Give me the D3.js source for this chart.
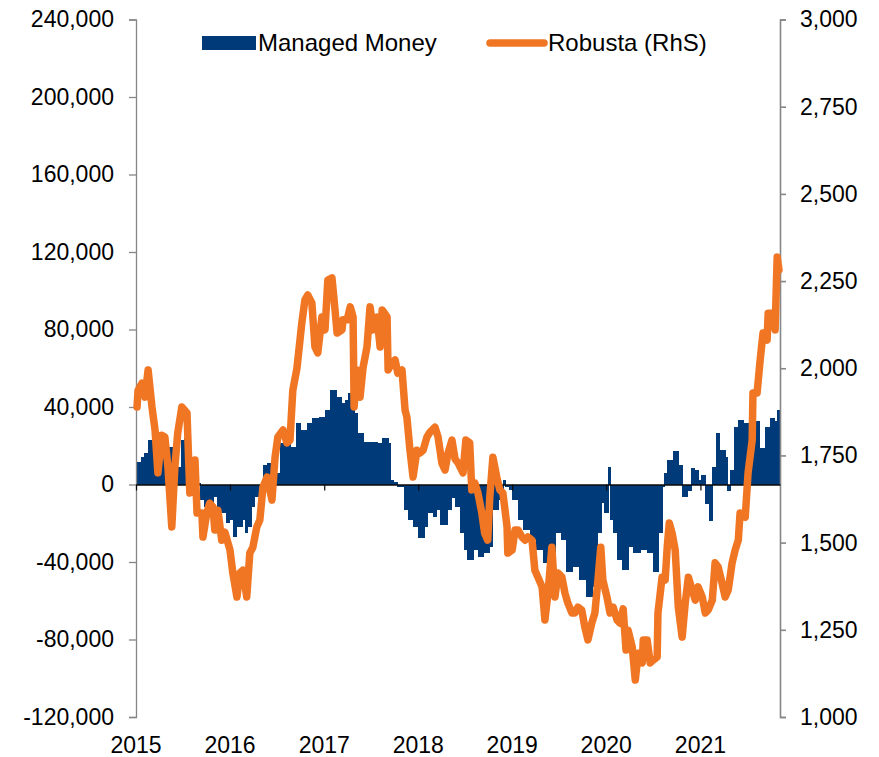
<!DOCTYPE html>
<html>
<head>
<meta charset="utf-8">
<script src="https://cdn.jsdelivr.net/npm/d3@7"></script>
<style>
  body { margin: 0; background: #fff; }
  svg text { font-family: "Liberation Sans", Arial, sans-serif; fill: #000; }
</style>
</head>
<body>
<div id="chart"></div>
<script>
// Managed Money net position (contracts)
const managedMoney = [
  ["2015-01-06", 11600], ["2015-01-20", 14200], ["2015-02-03", 16300], ["2015-02-17", 23000],
  ["2015-03-03", 19400], ["2015-03-17", 24500], ["2015-04-07", 23000], ["2015-04-28", 19400],
  ["2015-05-19", 14200], ["2015-06-02", 9000], ["2015-06-23", 23000], ["2015-07-07", 24000],
  ["2015-07-21", 12600], ["2015-08-04", 3900], ["2015-08-25", 800], ["2015-09-08", -8000],
  ["2015-09-22", -11600], ["2015-10-06", -9500], ["2015-10-27", -6400], ["2015-11-10", -11600],
  ["2015-11-24", -14700], ["2015-12-15", -19900], ["2015-12-29", -18300], ["2016-01-12", -27100],
  ["2016-01-26", -21900], ["2016-02-16", -18300], ["2016-03-01", -25000], ["2016-03-08", -21900],
  ["2016-03-22", -11600], ["2016-04-05", -6400], ["2016-04-19", -2800], ["2016-05-03", 800],
  ["2016-05-10", 10000], ["2016-05-24", 11100], ["2016-06-07", 7500], ["2016-06-28", 5900],
  ["2016-07-12", 21400], ["2016-07-26", 23000], ["2016-08-09", 24500], ["2016-08-23", 19400],
  ["2016-09-13", 31700], ["2016-09-27", 28100], ["2016-10-25", 31700], ["2016-11-15", 34300],
  ["2016-12-13", 34800], ["2017-01-03", 38400], ["2017-01-24", 48800], ["2017-02-14", 45200],
  ["2017-03-07", 42000], ["2017-03-21", 43600], ["2017-04-04", 47200], ["2017-04-25", 36900],
  ["2017-05-09", 26600], ["2017-05-30", 21900], ["2017-06-27", 21900], ["2017-07-25", 21400],
  ["2017-08-15", 24000], ["2017-09-05", 21400], ["2017-09-12", 2300], ["2017-09-26", 1300],
  ["2017-10-10", -1300], ["2017-11-07", -13200], ["2017-11-21", -18300], ["2017-12-12", -21900],
  ["2018-01-02", -27600], ["2018-01-23", -21900], ["2018-02-06", -14700], ["2018-02-27", -16800],
  ["2018-03-13", -13200], ["2018-03-27", -20900], ["2018-04-24", -13200], ["2018-05-08", -7000],
  ["2018-05-22", -11600], ["2018-06-12", -25000], ["2018-06-26", -33800], ["2018-07-10", -39000],
  ["2018-07-31", -33800], ["2018-08-21", -37400], ["2018-09-11", -35400], ["2018-10-02", -32000],
  ["2018-10-16", -13200], ["2018-11-06", -8000], ["2018-11-27", 2300], ["2018-12-04", -1300],
  ["2018-12-18", -2800], ["2019-01-01", -8000], ["2019-01-22", -18300], ["2019-02-12", -23500],
  ["2019-03-12", -28600], ["2019-04-02", -33800], ["2019-04-30", -40500], ["2019-05-14", -40000],
  ["2019-05-28", -35400], ["2019-06-18", -25000], ["2019-07-09", -28600], ["2019-07-30", -45100],
  ["2019-08-20", -42600], ["2019-09-17", -49300], ["2019-10-15", -58100], ["2019-11-05", -52900],
  ["2019-11-26", -25000], ["2019-12-10", -9500], ["2019-12-24", -14700], ["2020-01-07", 9000],
  ["2020-01-14", -18300], ["2020-01-28", -25000], ["2020-02-11", -39000], ["2020-03-03", -44100],
  ["2020-03-24", -32200], ["2020-04-14", -35400], ["2020-05-12", -33800], ["2020-06-09", -35400],
  ["2020-06-30", -45400], ["2020-07-21", -25000], ["2020-08-04", -1300], ["2020-08-11", 5900],
  ["2020-08-25", 12600], ["2020-09-15", 17300], ["2020-10-06", 10000], ["2020-10-20", -6400],
  ["2020-11-10", -3500], ["2020-11-24", 8500], ["2020-12-08", 7500], ["2020-12-22", 2300],
  ["2021-01-05", 4900], ["2021-01-19", -10000], ["2021-02-02", -19000], ["2021-02-16", 9000],
  ["2021-03-02", 26600], ["2021-03-16", 17800], ["2021-04-06", 14200], ["2021-04-13", -3500],
  ["2021-04-27", 7500], ["2021-05-11", 29700], ["2021-05-25", 33300], ["2021-06-15", 31700],
  ["2021-07-06", 25000], ["2021-07-27", 33000], ["2021-08-17", 18600], ["2021-09-07", 29700],
  ["2021-09-28", 34500], ["2021-10-12", 32700], ["2021-10-26", 38400], ["2021-11-02", 35900]
];

// Robusta price (USD/t, right hand scale)
const robusta = [
  ["2015-01-05", 1889], ["2015-01-09", 1937], ["2015-01-24", 1957], ["2015-02-05", 1917],
  ["2015-02-17", 1995], ["2015-03-04", 1889], ["2015-03-16", 1823], ["2015-03-27", 1700],
  ["2015-04-11", 1808], ["2015-04-23", 1803], ["2015-05-05", 1717], ["2015-05-20", 1545],
  ["2015-06-01", 1717], ["2015-06-12", 1814], ["2015-06-28", 1889], ["2015-07-18", 1872],
  ["2015-07-29", 1642], ["2015-08-10", 1659], ["2015-08-18", 1737], ["2015-08-26", 1585],
  ["2015-09-14", 1585], ["2015-09-18", 1516], ["2015-10-03", 1585], ["2015-10-14", 1613],
  ["2015-10-27", 1602], ["2015-11-03", 1536], ["2015-11-15", 1593], ["2015-11-30", 1507],
  ["2015-12-12", 1530], ["2016-01-01", 1479], ["2016-01-12", 1413], ["2016-01-28", 1344],
  ["2016-02-08", 1413], ["2016-02-20", 1421], ["2016-03-06", 1344], ["2016-03-18", 1470],
  ["2016-03-30", 1487], ["2016-04-14", 1545], ["2016-04-26", 1565], ["2016-05-08", 1659],
  ["2016-05-24", 1688], ["2016-06-12", 1622], ["2016-06-24", 1745], ["2016-07-05", 1803],
  ["2016-07-25", 1823], ["2016-08-09", 1786], ["2016-08-21", 1794], ["2016-09-01", 1937],
  ["2016-09-17", 2000], ["2016-10-06", 2130], ["2016-10-18", 2196], ["2016-10-29", 2210],
  ["2016-11-14", 2187], ["2016-11-26", 2061], ["2016-12-07", 2044], ["2016-12-23", 2147],
  ["2017-01-04", 2110], ["2017-01-15", 2253], ["2017-01-31", 2259], ["2017-02-12", 2167],
  ["2017-02-20", 2101], ["2017-03-11", 2110], ["2017-03-15", 2139], ["2017-03-31", 2139],
  ["2017-04-12", 2176], ["2017-04-23", 2147], ["2017-04-27", 1889], ["2017-05-08", 1995],
  ["2017-05-20", 1917], ["2017-06-01", 2003], ["2017-06-16", 2061], ["2017-06-28", 2176],
  ["2017-07-10", 2110], ["2017-07-25", 2147], ["2017-08-06", 2061], ["2017-08-14", 2167],
  ["2017-09-02", 2147], ["2017-09-06", 1995], ["2017-09-21", 2015], ["2017-10-03", 2024],
  ["2017-10-14", 1986], ["2017-10-30", 1995], ["2017-11-11", 1880], ["2017-11-18", 1860],
  ["2017-11-30", 1765], ["2017-12-12", 1688], ["2017-12-27", 1765], ["2018-01-08", 1757],
  ["2018-01-20", 1765], ["2018-02-04", 1803], ["2018-02-16", 1817], ["2018-03-07", 1831],
  ["2018-03-19", 1803], ["2018-04-03", 1728], ["2018-04-15", 1708], ["2018-04-27", 1757],
  ["2018-05-12", 1794], ["2018-05-24", 1740], ["2018-06-05", 1728], ["2018-06-24", 1700],
  ["2018-07-05", 1794], ["2018-07-20", 1786], ["2018-07-28", 1651], ["2018-08-09", 1671],
  ["2018-08-21", 1642], ["2018-09-05", 1585], ["2018-09-16", 1527], ["2018-09-28", 1507],
  ["2018-10-06", 1631], ["2018-10-18", 1745], ["2018-11-02", 1688], ["2018-11-14", 1651],
  ["2018-11-26", 1642], ["2018-12-12", 1545], ["2018-12-15", 1470], ["2019-01-01", 1479],
  ["2019-01-12", 1536], ["2019-01-24", 1536], ["2019-02-08", 1516], ["2019-02-20", 1507],
  ["2019-03-03", 1516], ["2019-03-19", 1507], ["2019-03-30", 1421], ["2019-04-11", 1401],
  ["2019-04-27", 1373], ["2019-05-08", 1278], ["2019-05-20", 1355], ["2019-06-04", 1487],
  ["2019-06-16", 1344], ["2019-06-28", 1413], ["2019-07-13", 1401], ["2019-07-25", 1355],
  ["2019-08-05", 1327], ["2019-08-21", 1298], ["2019-09-01", 1298], ["2019-09-13", 1315],
  ["2019-09-28", 1307], ["2019-10-10", 1258], ["2019-10-22", 1221], ["2019-11-06", 1269],
  ["2019-11-18", 1298], ["2019-11-30", 1393], ["2019-12-11", 1487], ["2019-12-19", 1393],
  ["2020-01-04", 1344], ["2020-01-16", 1298], ["2020-01-28", 1315], ["2020-02-12", 1278],
  ["2020-02-24", 1269], ["2020-03-07", 1310], ["2020-03-18", 1192], ["2020-03-26", 1249],
  ["2020-04-11", 1201], ["2020-04-23", 1106], ["2020-05-04", 1183], ["2020-05-20", 1155],
  ["2020-05-24", 1221], ["2020-06-08", 1221], ["2020-06-20", 1155], ["2020-07-01", 1163],
  ["2020-07-17", 1172], ["2020-07-20", 1298], ["2020-08-05", 1401], ["2020-08-17", 1393],
  ["2020-08-25", 1487], ["2020-09-02", 1556], ["2020-09-13", 1527], ["2020-09-25", 1479],
  ["2020-10-07", 1315], ["2020-10-22", 1229], ["2020-11-03", 1327], ["2020-11-15", 1401],
  ["2020-11-30", 1364], ["2020-12-12", 1335], ["2020-12-23", 1373], ["2021-01-08", 1344],
  ["2021-01-20", 1298], ["2021-01-31", 1307], ["2021-02-16", 1335], ["2021-02-27", 1442],
  ["2021-03-11", 1430], ["2021-03-26", 1384], ["2021-04-07", 1344], ["2021-04-19", 1364],
  ["2021-05-04", 1442], ["2021-05-16", 1479], ["2021-05-28", 1507], ["2021-06-04", 1585],
  ["2021-06-24", 1573], ["2021-07-05", 1700], ["2021-07-21", 1794], ["2021-07-24", 1929],
  ["2021-08-09", 1929], ["2021-08-21", 2024], ["2021-09-01", 2101], ["2021-09-17", 2081],
  ["2021-09-21", 2158], ["2021-10-06", 2158], ["2021-10-18", 2110], ["2021-10-26", 2319],
  ["2021-11-02", 2282]
];

const leftTicks = [-120000, -80000, -40000, 0, 40000, 80000, 120000, 160000, 200000, 240000];
const rightTicks = [1000, 1250, 1500, 1750, 2000, 2250, 2500, 2750, 3000];
const yearTicks = [2015, 2016, 2017, 2018, 2019, 2020, 2021];
const seriesNames = ["Managed Money", "Robusta (RhS)"];

const BLUE = "#003a78";
const ORANGE = "#f07624";
const AXIS_GREY = "#868686";
const TICK_FONT_SIZE = 23;
const LEGEND_FONT_SIZE = 24;

const width = 879, height = 757;
const parse = d3.timeParse("%Y-%m-%d");
const mm = managedMoney.map(d => ({date: parse(d[0]), value: d[1]}));
const rob = robusta.map(d => ({date: parse(d[0]), value: d[1]}));

const fmt = d3.formatLocale({decimal: ".", thousands: ",", grouping: [3], currency: ["", ""], minus: "-"}).format(",");

const svg = d3.select("#chart").append("svg")
    .attr("width", width)
    .attr("height", height);

const x = d3.scaleTime()
    .domain([new Date(2015, 0, 1), new Date(2021, 10, 6)])
    .range([136, 780]);
const yL = d3.scaleLinear().domain([-120000, 240000]).range([717, 19.5]);
const yR = d3.scaleLinear().domain([1000, 3000]).range([717, 19.5]);

// ==================== bars =====================
const endX = x(x.domain()[1]);
svg.append("g")
    .attr("shape-rendering", "crispEdges")
    .selectAll("rect")
    .data(mm)
    .enter()
    .append("rect")
    .attr("x", d => x(d.date))
    .attr("width", (d, i) => {
        const nextX = i < mm.length - 1 ? x(mm[i + 1].date) + 1 : endX;
        return Math.max(1, Math.min(nextX, endX) - x(d.date));
    })
    .attr("y", d => Math.min(yL(d.value), yL(0)))
    .attr("height", d => Math.abs(yL(d.value) - yL(0)))
    .attr("fill", BLUE);

// ==================== left axis =====================
const leftAxis = svg.append("g")
    .attr("transform", "translate(136,0)")
    .call(d3.axisLeft(yL).tickValues(leftTicks).tickFormat(fmt).tickSizeInner(7).tickSizeOuter(7).tickPadding(15));
leftAxis.selectAll("path, line").attr("stroke", AXIS_GREY).attr("stroke-width", 1.3);
leftAxis.selectAll("text").style("font-size", `${TICK_FONT_SIZE}px`).attr("font-family", null);

// ==================== right axis =====================
const rightAxis = svg.append("g")
    .attr("transform", "translate(780,0)")
    .call(d3.axisRight(yR).tickValues(rightTicks).tickFormat(fmt).tickSizeInner(6).tickSizeOuter(6).tickPadding(14));
rightAxis.selectAll("path, line").attr("stroke", AXIS_GREY).attr("stroke-width", 1.6);
rightAxis.selectAll("text").style("font-size", `${TICK_FONT_SIZE}px`).attr("font-family", null);

// ==================== x axis on the zero line =====================
const xAxis = svg.append("g")
    .attr("transform", `translate(0,${yL(0)})`)
    .call(d3.axisBottom(x)
        .tickValues(yearTicks.map(y => new Date(y, 0, 1)))
        .tickFormat("")
        .tickSizeInner(6)
        .tickSizeOuter(0));
xAxis.select(".domain").attr("stroke", "#0a0a0a").attr("stroke-width", 1.6);
xAxis.selectAll(".tick line").attr("stroke", "#0a0a0a").attr("stroke-width", 1.2);

svg.append("g")
    .selectAll("text")
    .data(yearTicks)
    .enter()
    .append("text")
    .attr("x", d => x(new Date(d, 0, 1)))
    .attr("y", 745)
    .attr("dy", "0.35em")
    .attr("text-anchor", "middle")
    .style("font-size", `${TICK_FONT_SIZE}px`)
    .text(d => d);

// ==================== robusta line =====================
const line = d3.line()
    .x(d => x(d.date))
    .y(d => yR(d.value));

svg.append("path")
    .datum(rob)
    .attr("d", line)
    .attr("fill", "none")
    .attr("stroke", ORANGE)
    .attr("stroke-width", 7.5)
    .attr("stroke-linejoin", "round")
    .attr("stroke-linecap", "round");

// ==================== legend =====================
const legend = svg.append("g");
legend.append("rect")
    .attr("x", 202).attr("y", 36)
    .attr("width", 54).attr("height", 14)
    .attr("fill", BLUE);
legend.append("text")
    .attr("x", 258).attr("y", 43).attr("dy", "0.35em")
    .style("font-size", `${LEGEND_FONT_SIZE}px`)
    .text(seriesNames[0]);
legend.append("line")
    .attr("x1", 490).attr("x2", 544)
    .attr("y1", 43).attr("y2", 43)
    .attr("stroke", ORANGE)
    .attr("stroke-width", 7.5)
    .attr("stroke-linecap", "round");
legend.append("text")
    .attr("x", 548).attr("y", 43).attr("dy", "0.35em")
    .style("font-size", `${LEGEND_FONT_SIZE}px`)
    .text(seriesNames[1]);
</script>
</body>
</html>
